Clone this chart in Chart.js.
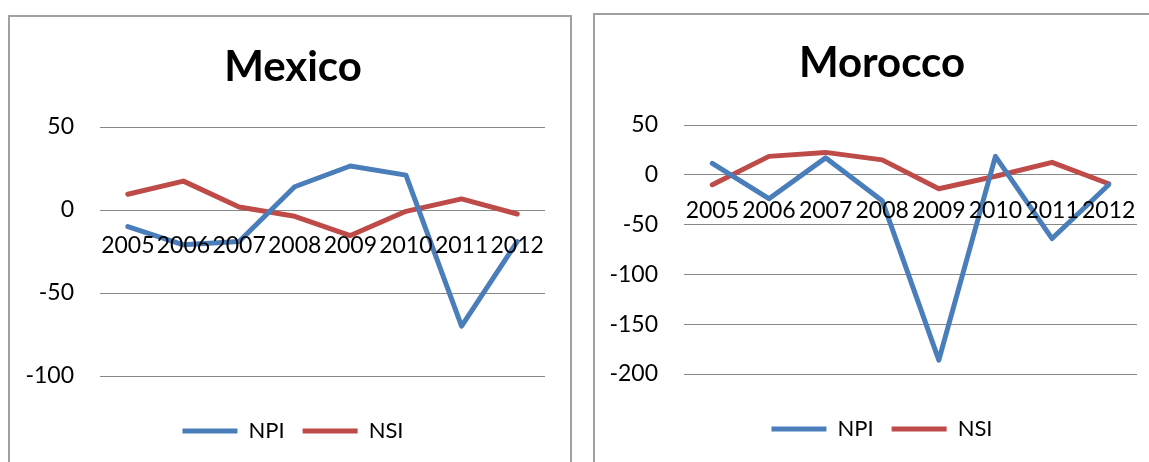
<!DOCTYPE html>
<html><head><meta charset="utf-8">
<script src="https://cdn.jsdelivr.net/npm/chart.js@4.4.1/dist/chart.umd.min.js"></script>
<style>
html,body{margin:0;padding:0;background:#fff;overflow:hidden;width:1149px;height:462px;position:relative;}
.box{position:absolute;border:2px solid #a0a0a0;background:#fff;}
#b1{left:8px;top:15px;width:560px;height:470px;}
#b2{left:593px;top:13px;width:580px;height:470px;}
canvas{display:block;}
</style></head><body>
<div class="box" id="b1"><canvas id="c1" width="560" height="445"></canvas></div>
<div class="box" id="b2"><canvas id="c2" width="570" height="445"></canvas></div>
<script>
const categories = ['2005','2006','2007','2008','2009','2010','2011','2012'];
const seriesNames = ['NPI','NSI'];
const mexicoNPI = [-10, -21, -19, 14, 26.5, 21, -70, -19];
const mexicoNSI = [9.5, 17.4, 1.8, -3.8, -15.4, -0.8, 6.7, -2.4];
const moroccoNPI = [11.5, -24, 17, -26, -186, 18.5, -64, -10];
const moroccoNSI = [-10, 18.5, 22.5, 15, -14, -1.5, 12.5, -9];
const mexicoYRange = [-100, 50];
const moroccoYRange = [-200, 50];
const yStep = 50;

Chart.defaults.font.family = 'Lato, sans-serif';
Chart.defaults.color = '#000';

function makeChart(id, title, npi, nsi, yRange, padLeft, yWidth, rWidth, tTop, tBottom) {
  return new Chart(document.getElementById(id), {
    type: 'line',
    data: {
      labels: categories,
      datasets: [
        {label: seriesNames[0], data: npi, borderColor: '#4A7EBB', backgroundColor: '#4A7EBB',
         borderWidth: 5, pointRadius: 0, tension: 0, borderCapStyle: 'round', borderJoinStyle: 'round'},
        {label: seriesNames[1], data: nsi, borderColor: '#BE4B48', backgroundColor: '#BE4B48',
         borderWidth: 5, pointRadius: 0, tension: 0, borderCapStyle: 'round', borderJoinStyle: 'round'}
      ]
    },
    options: {
      responsive: false,
      animation: false,
      devicePixelRatio: 1,
      layout: {padding: {left: padLeft, right: 0, top: 0, bottom: 10}},
      plugins: {
        title: {display: true, text: title, color: '#000',
                font: {family: 'Lato, sans-serif', size: 42, weight: 'bold'},
                padding: {top: tTop, bottom: tBottom}},
        legend: {
          position: 'bottom',
          title: {display: true, text: '', font: {size: 10}, padding: {top: 14, bottom: 0}},
          labels: {usePointStyle: true, pointStyle: 'line', pointStyleWidth: 55,
                   font: {size: 22}, color: '#000', padding: 18}
        },
        tooltip: {enabled: false}
      },
      scales: {
        x: {
          position: {y: 0},
          offset: true,
          grid: {display: false, drawTicks: false},
          border: {display: false},
          ticks: {autoSkip: false, maxRotation: 0, minRotation: 0, padding: 22,
                  font: {size: 23}, color: '#000', z: 1}
        },
        y: {
          position: 'left',
          min: yRange[0], max: yRange[1],
          grid: {color: '#878787', lineWidth: 1, drawTicks: false},
          border: {display: false},
          ticks: {stepSize: yStep, padding: 26, font: {size: 23}, color: '#000'},
          afterFit: s => { s.width = yWidth; }
        },
        yR: {
          position: 'right', display: true,
          grid: {display: false, drawTicks: false},
          border: {display: false},
          ticks: {display: false},
          afterFit: s => { s.width = rWidth; }
        }
      }
    }
  });
}

makeChart('c1', 'Mexico', mexicoNPI, mexicoNSI, mexicoYRange, 6, 84, 25, 25.1, 34.5);
makeChart('c2', 'Morocco', moroccoNPI, moroccoNSI, moroccoYRange, 4, 85, 28, 22.9, 36.7);
</script>
</body></html>
